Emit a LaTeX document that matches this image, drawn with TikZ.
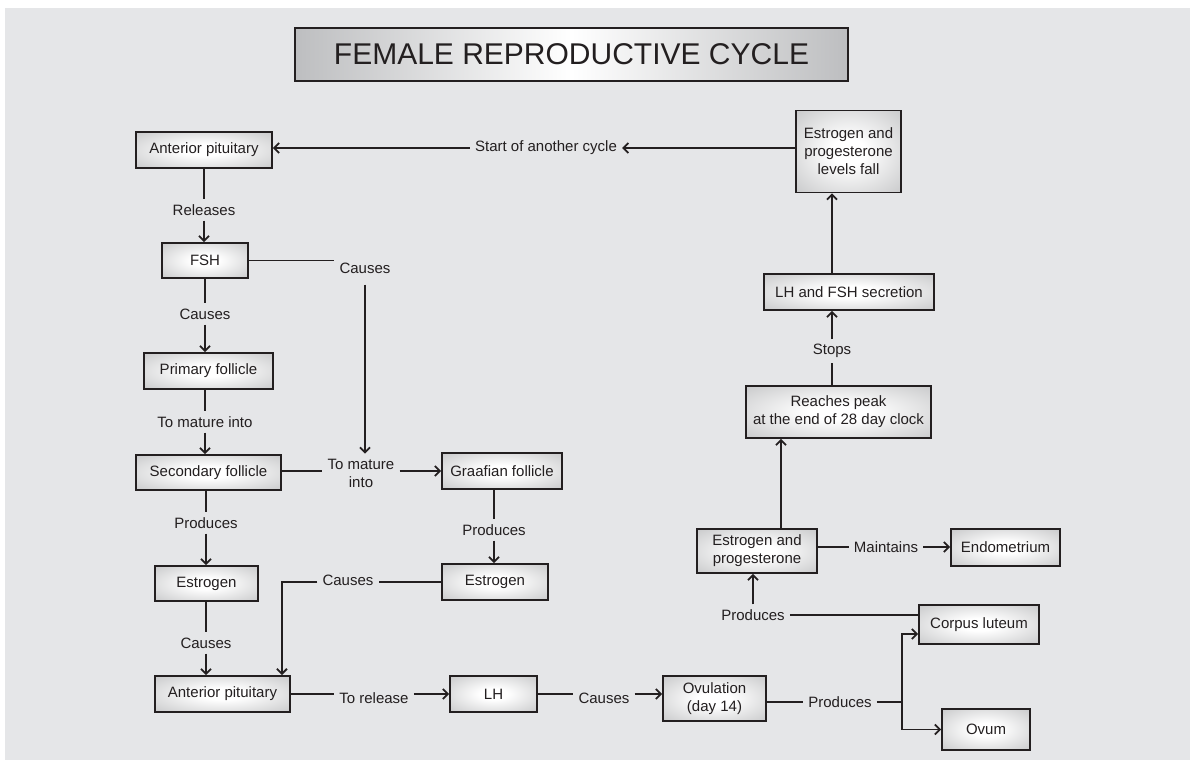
\documentclass[tikz,border=0pt]{standalone}
\usepackage{fontspec}
\setmainfont{Liberation Sans}
\usetikzlibrary{arrows.meta,calc}
\definecolor{bg}{HTML}{E5E6E8}
\definecolor{ink}{HTML}{231F20}
\definecolor{edgegray}{HTML}{ADAEB0}
\definecolor{titleedge}{HTML}{BDBEC0}
\pgfdeclareradialshading{boxsh}{\pgfpoint{0bp}{0bp}}{color(0bp)=(white); color(8bp)=(white); color(50bp)=(edgegray)}
\tikzset{
  box/.style={draw=ink, line width=1.8pt, shade, shading=boxsh, inner sep=0pt, align=center,
    font=\fontsize{15}{18}\selectfont, text=ink},
  lab/.style={inner sep=5pt, align=center, font=\fontsize{15}{18}\selectfont, text=ink},
  con/.style={draw=ink, line width=1.8pt},
  arr/.style={con, -{Straight Barb[length=5pt,width=10pt,line width=1.8pt]}}
}
\begin{document}
\begin{tikzpicture}[x=1pt,y=-1pt]
\useasboundingbox (0,0) rectangle (1190,760);
\fill[white] (0,0) rectangle (1190,760);
\fill[bg] (5,8) rectangle (1190,760);

% title
\node[draw=ink, line width=1.8pt, left color=titleedge, right color=titleedge, middle color=white,
  minimum width=553pt, minimum height=53pt, inner sep=0pt, font=\fontsize{30}{36}\selectfont, text=ink]
  (title) at (571.5,54.5) {FEMALE REPRODUCTIVE CYCLE};

% boxes
\node[box, minimum width=136pt, minimum height=36pt] (ap1) at (204,150) {Anterior pituitary};
\node[box, minimum width=86pt, minimum height=35pt] (fsh) at (205,260.5) {FSH};
\node[box, minimum width=129pt, minimum height=36pt] (prim) at (208.5,371) {Primary follicle};
\node[box, minimum width=145pt, minimum height=35pt] (sec) at (208.5,472.5) {Secondary follicle};
\node[box, minimum width=120pt, minimum height=36pt] (graaf) at (502,471) {Graafian follicle};
\node[box, minimum width=103pt, minimum height=35pt] (est1) at (206.5,583.5) {Estrogen};
\node[box, minimum width=106pt, minimum height=36pt] (est2) at (495,582) {Estrogen};
\node[box, minimum width=135pt, minimum height=36pt] (ap2) at (222.5,694) {Anterior pituitary};
\node[box, minimum width=87pt, minimum height=36pt] (lh) at (493.5,694) {LH};
\node[box, minimum width=103pt, minimum height=45pt] (ovul) at (714.5,698.5) {Ovulation\\(day 14)};
\node[box, minimum width=120pt, minimum height=39pt] (corpus) at (979,624.5) {Corpus luteum};
\node[box, minimum width=88pt, minimum height=41pt] (ovum) at (986,729.5) {Ovum};
\node[box, minimum width=120pt, minimum height=44pt] (ep) at (757,551) {Estrogen and\\progesterone};
\node[box, minimum width=109pt, minimum height=37pt] (endo) at (1005.5,547.5) {Endometrium};
\node[box, minimum width=185pt, minimum height=52pt] (peak) at (838.5,412) {Reaches peak\\at the end of 28 day clock};
\node[box, minimum width=170pt, minimum height=36pt] (lhfsh) at (849,292) {LH and FSH secretion};
\node[box, minimum width=105pt, minimum height=82pt] (epfall) at (848.5,151.5) {Estrogen and\\progesterone\\levels fall};

% labels
\node[lab] (start) at (546,148) {Start of another cycle};
\node[lab] (rel) at (204,210) {Releases};
\node[lab] (c1) at (365,268) {Causes};
\node[lab] (c2) at (205,314) {Causes};
\node[lab] (mat1) at (205,422) {To mature into};
\node[lab] (mat2) at (361,473) {To mature\\into};
\node[lab] (prod1) at (206,523) {Produces};
\node[lab] (prod2) at (494,530) {Produces};
\node[lab] (c3) at (206,643) {Causes};
\node[lab] (c4) at (348,580) {Causes};
\node[lab] (rel2) at (374,698) {To release};
\node[lab] (c5) at (604,698) {Causes};
\node[lab] (prod3) at (840,702) {Produces};
\node[lab] (prod4) at (753,615) {Produces};
\node[lab] (maint) at (886,547) {Maintains};
\node[lab] (stops) at (832,351) {Stops};

% connectors
\draw[arr] (epfall.west |- start) -- (start);
\draw[arr] (start) -- (start -| ap1.east);

\draw[con] (ap1.south -| rel) -- (rel);
\draw[arr] (rel) -- (rel |- fsh.north);

\draw[con] (fsh.east) -- (fsh.east -| c1.west);
\draw[arr] ([yshift=-6pt]c1.south) -- (c1.south |- mat2.north);

\draw[con] (fsh.south -| c2) -- (c2);
\draw[arr] (c2) -- (c2 |- prim.north);

\draw[con] (prim.south -| mat1) -- (mat1);
\draw[arr] (mat1) -- (mat1 |- sec.north);

\draw[con] (sec.east |- graaf.west) -- (mat2.west |- graaf.west);
\draw[arr] (mat2.east |- graaf.west) -- (graaf.west);

\draw[con] (sec.south -| prod1) -- (prod1);
\draw[arr] (prod1) -- (prod1 |- est1.north);

\draw[con] (graaf.south -| prod2) -- (prod2);
\draw[arr] (prod2) -- (prod2 |- est2.north);

\draw[con] (est1.south -| c3) -- (c3);
\draw[arr] (c3) -- (c3 |- ap2.north);

\coordinate (ap2in) at ([xshift=-9pt]ap2.north east);
\draw[con] (est2.west) -- (est2.west -| c4.east);
\draw[arr] (c4.west |- est2.west) -| (ap2in);

\draw[con] (ap2.east) -- (ap2.east -| rel2.west);
\draw[arr] (rel2.east |- lh.east) -- (lh.west);

\draw[con] (lh.east) -- (lh.east -| c5.west);
\draw[arr] (c5.east |- lh.east) -- (lh.east -| ovul.west);

\coordinate (junc) at (902,702);
\coordinate (clin) at ([yshift=-9.5pt]corpus.west);
\coordinate (clup) at ([yshift=9.5pt]corpus.west);
\draw[con] (ovul.east |- junc) -- (prod3.west |- junc);
\draw[con] (prod3.east |- junc) -- (junc);
\draw[arr] (junc) |- (clin);
\draw[arr] (junc) |- (ovum.west);

\draw[con] (prod4.east |- clup) -- (clup);
\draw[arr] (prod4) -- (prod4 |- ep.south);

\draw[con] (ep.east |- maint) -- (maint.west);
\draw[arr] (maint.east) -- (maint.east -| endo.west);

\draw[arr] ([xshift=24pt]ep.north) -- ([xshift=24pt]ep.north |- peak.south);

\draw[con] (stops |- peak.north) -- (stops);
\draw[arr] (stops) -- (stops |- lhfsh.south);
\draw[arr] (stops |- lhfsh.north) -- (stops |- epfall.south);
\end{tikzpicture}
\end{document}
